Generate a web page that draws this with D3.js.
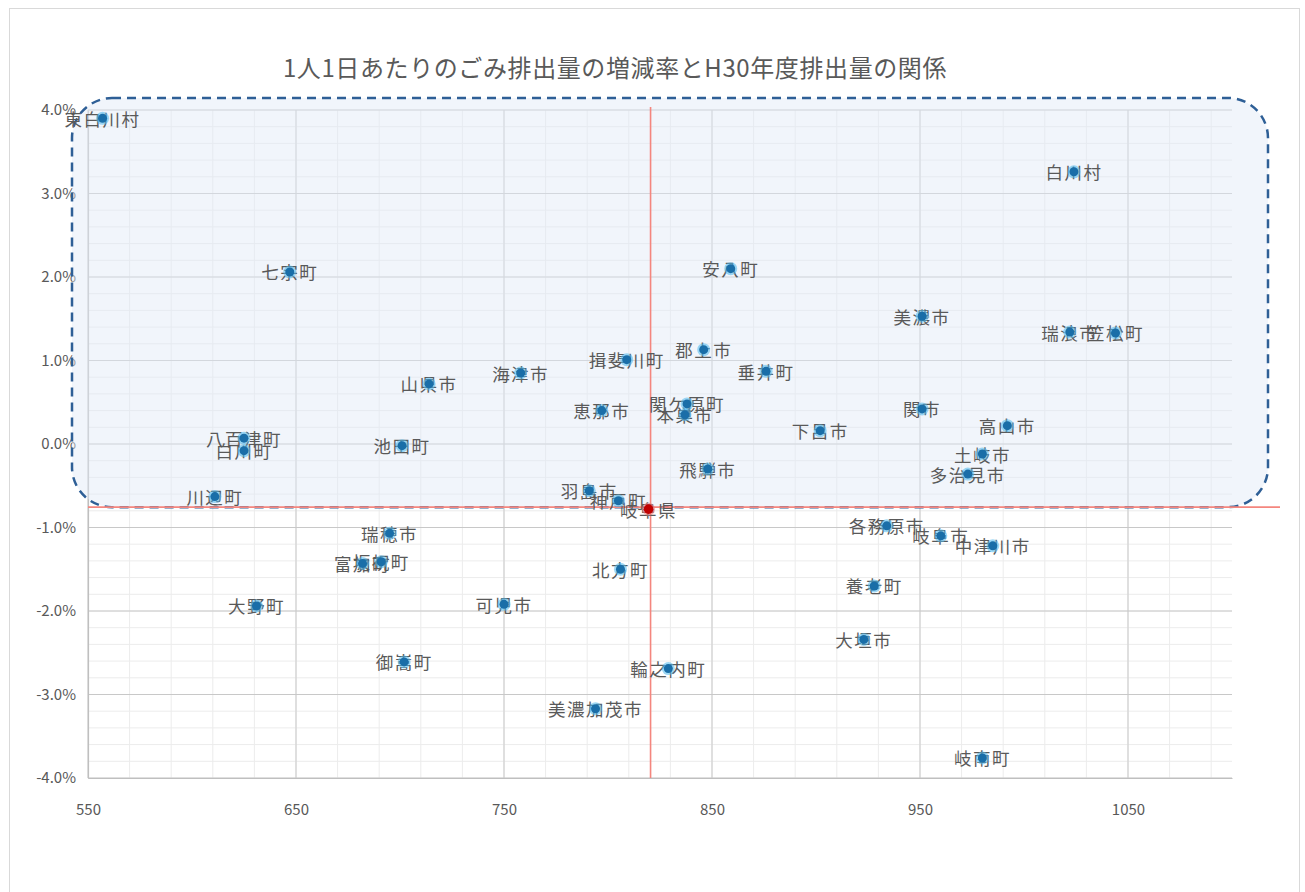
<!DOCTYPE html>
<html lang="ja">
<head>
<meta charset="utf-8">
<script src="https://cdn.jsdelivr.net/npm/d3@7"></script>
<style>
  html, body { margin: 0; padding: 0; background: #ffffff; }
  svg { display: block; }
  text { font-family: "Noto Sans CJK JP", "Noto Sans", sans-serif; }
</style>
</head>
<body>
<svg id="chart" width="1305" height="892"></svg>
<script>
// 市町村名 / H30年度 1人1日あたり排出量(g) / 増減率
const names = [
  "東白川村", "白川村", "七宗町", "安八町", "美濃市", "瑞浪市", "笠松町",
  "郡上市", "揖斐川町", "垂井町", "海津市", "山県市", "恵那市", "関ケ原町",
  "本巣市", "下呂市", "関市", "高山市", "土岐市", "多治見市", "飛騨市",
  "池田町", "八百津町", "白川町", "川辺町", "羽島市", "神戸町", "瑞穂市",
  "富加町", "坂祝町", "大野町", "可児市", "北方町", "輪之内町", "美濃加茂市",
  "御嵩町", "各務原市", "岐阜市", "中津川市", "養老町", "大垣市", "岐南町"
];
const amounts = [
  557, 1024, 647, 859, 951, 1022, 1044,
  846, 809, 876, 758, 714, 797, 838,
  837, 902, 951, 992, 980, 973, 848,
  701, 625, 625, 611, 791, 805, 695,
  682, 691, 631, 750, 806, 829, 794,
  702, 934, 960, 985, 928, 923, 980
];
const rates = [
  0.0390, 0.0326, 0.0206, 0.0210, 0.0153, 0.0134, 0.0133,
  0.0113, 0.0101, 0.0087, 0.0085, 0.0072, 0.0040, 0.0048,
  0.0035, 0.0016, 0.0042, 0.0022, -0.0012, -0.0036, -0.0030,
  -0.0002, 0.0007, -0.0008, -0.0063, -0.0056, -0.0068, -0.0107,
  -0.0143, -0.0141, -0.0194, -0.0192, -0.0150, -0.0269, -0.0317,
  -0.0261, -0.0098, -0.0110, -0.0122, -0.0170, -0.0234, -0.0376
];
// 県平均
const prefName = "岐阜県";
const prefAmount = 819.5;
const prefRate = -0.0078;

const xTicks = [550, 650, 750, 850, 950, 1050];
const yTicks = [0.04, 0.03, 0.02, 0.01, 0, -0.01, -0.02, -0.03, -0.04];
const titleText = "1人1日あたりのごみ排出量の増減率とH30年度排出量の関係";

const svg = d3.select("#chart");
const plotL = 88, plotR = 1232, plotT = 110, plotB = 778;

const x = d3.scaleLinear().domain([550, 1100]).range([plotL, plotR]);
const y = d3.scaleLinear().domain([-0.04, 0.04]).range([plotB, plotT]);

// chart frame
svg.append("rect")
  .attr("x", 9.5).attr("y", 8.5).attr("width", 1290).attr("height", 890)
  .attr("fill", "#ffffff").attr("stroke", "#d9d9d9").attr("stroke-width", 1);

// title
svg.append("text")
  .attr("x", 615).attr("y", 77)
  .attr("text-anchor", "middle")
  .attr("font-size", 24)
  .attr("letter-spacing", 0.6)
  .attr("fill", "#595959")
  .text(titleText);

// minor grid
const g = svg.append("g");
g.selectAll("line.vminor")
  .data(d3.range(550, 1100.1, 20))
  .join("line")
  .attr("x1", d => x(d)).attr("x2", d => x(d))
  .attr("y1", plotT).attr("y2", plotB)
  .attr("stroke", "#ececec").attr("stroke-width", 1);
g.selectAll("line.hminor")
  .data(d3.range(-40, 41, 2).map(v => v / 1000))
  .join("line")
  .attr("x1", plotL).attr("x2", plotR)
  .attr("y1", d => y(d)).attr("y2", d => y(d))
  .attr("stroke", "#ececec").attr("stroke-width", 1);

// major grid
g.selectAll("line.vmajor")
  .data(xTicks)
  .join("line")
  .attr("x1", d => x(d)).attr("x2", d => x(d))
  .attr("y1", plotT).attr("y2", plotB)
  .attr("stroke", "#d0d0d0").attr("stroke-width", 1.2);
g.selectAll("line.hmajor")
  .data(yTicks)
  .join("line")
  .attr("x1", plotL).attr("x2", plotR)
  .attr("y1", d => y(d)).attr("y2", d => y(d))
  .attr("stroke", "#c8c8c8").attr("stroke-width", 1.2);

// axes
const fmtPct = v => d3.format(".1%")(v).replace("\u2212", "-");
const yAxis = d3.axisLeft(y).tickValues(yTicks).tickFormat(fmtPct).tickSize(0).tickPadding(12);
const xAxis = d3.axisBottom(x).tickValues(xTicks).tickFormat(d3.format("d")).tickSize(0).tickPadding(26);

const ya = svg.append("g").attr("transform", `translate(${plotL},0)`).call(yAxis);
const xa = svg.append("g").attr("transform", `translate(0,${plotB})`).call(xAxis);
[ya, xa].forEach(a => {
  a.select(".domain").attr("stroke", "#bfbfbf").attr("stroke-width", 1.2);
  a.selectAll("text")
    .attr("font-size", 15)
    .attr("fill", "#595959")
    .attr("font-family", "\"Noto Sans\", \"Liberation Sans\", sans-serif");
});

// highlighted group: rounded dashed area
svg.append("rect")
  .attr("x", x(550) - 16).attr("y", y(0.04) - 12)
  .attr("width", 1268 - (x(550) - 16))
  .attr("height", (y(prefRate) - 2) - (y(0.04) - 12))
  .attr("rx", 40).attr("ry", 40)
  .attr("fill", "#dfe9f6").attr("fill-opacity", 0.45)
  .attr("stroke", "#2e5f96").attr("stroke-width", 2.5)
  .attr("stroke-dasharray", "9,6");

// prefecture average lines
svg.append("line")
  .attr("x1", plotL).attr("x2", 1280)
  .attr("y1", y(prefRate) - 2).attr("y2", y(prefRate) - 2)
  .attr("stroke", "#f4867e").attr("stroke-width", 1.6);
svg.append("line")
  .attr("x1", x(prefAmount) + 2).attr("x2", x(prefAmount) + 2)
  .attr("y1", plotT - 3).attr("y2", plotB)
  .attr("stroke", "#f4867e").attr("stroke-width", 1.6);

// data
const data = names.map((n, i) => ({ name: n, amount: amounts[i], rate: rates[i] }));

const labels = svg.append("g");
labels.selectAll("text")
  .data(data.concat([{ name: prefName, amount: prefAmount, rate: prefRate }]))
  .join("text")
  .attr("x", d => x(d.amount))
  .attr("y", d => y(d.rate))
  .attr("text-anchor", "middle")
  .attr("dominant-baseline", "central")
  .attr("font-size", 17.5)
  .attr("letter-spacing", 1.5)
  .attr("fill", "#595959")
  .text(d => d.name);

const marks = svg.append("g");
marks.selectAll("circle.glow")
  .data(data)
  .join("circle")
  .attr("cx", d => x(d.amount))
  .attr("cy", d => y(d.rate))
  .attr("r", 6.5)
  .attr("fill", "#4fb8ec").attr("fill-opacity", 0.55);
marks.selectAll("circle.dot")
  .data(data)
  .join("circle")
  .attr("cx", d => x(d.amount))
  .attr("cy", d => y(d.rate))
  .attr("r", 4.5)
  .attr("fill", "#1a6ea8");

svg.append("circle")
  .attr("cx", x(prefAmount)).attr("cy", y(prefRate))
  .attr("r", 6.5).attr("fill", "#f08080").attr("fill-opacity", 0.6);
svg.append("circle")
  .attr("cx", x(prefAmount)).attr("cy", y(prefRate))
  .attr("r", 4.8).attr("fill", "#c00000");
</script>
</body>
</html>
